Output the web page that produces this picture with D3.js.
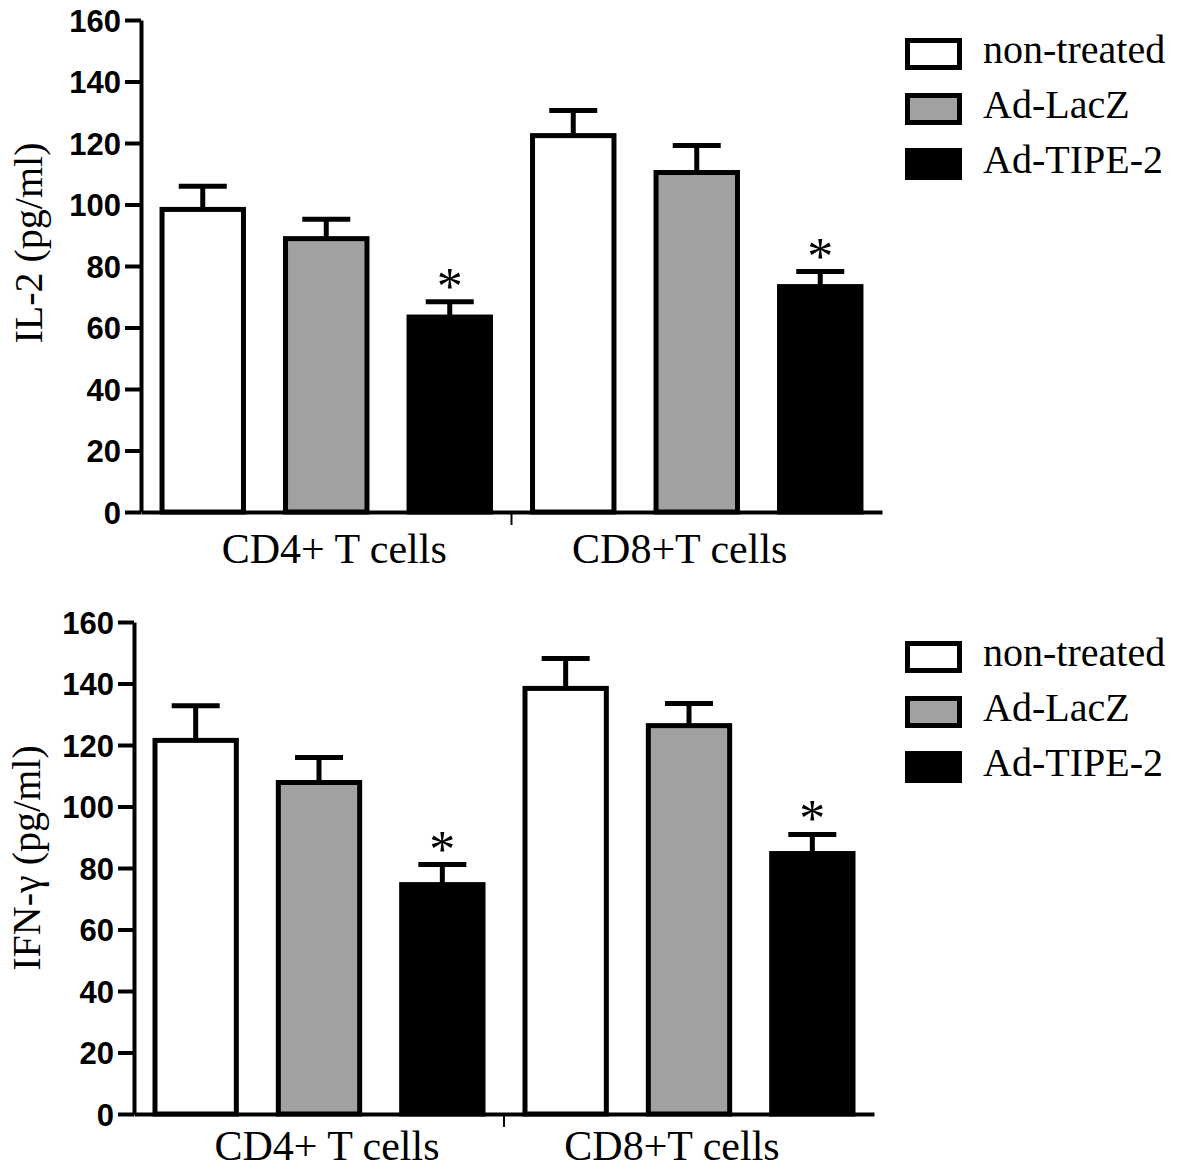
<!DOCTYPE html>
<html>
<head>
<meta charset="utf-8">
<script src="https://cdnjs.cloudflare.com/ajax/libs/d3/7.8.5/d3.min.js"></script>
<style>
  body { margin: 0; background: #fff; }
  svg { display: block; }
</style>
</head>
<body>
<div id="figure"></div>
<script>
const groups = ["CD4+ T cells", "CD8+T cells"];
const series = ["non-treated", "Ad-LacZ", "Ad-TIPE-2"];
const fills = ["#ffffff", "#a1a1a4", "#000000"];
const yTicks = [0, 20, 40, 60, 80, 100, 120, 140, 160];

// mean and SEM per group (rows) and series (cols)
const il2Mean = [[98.4, 88.9, 63.4], [122.4, 110.4, 73.3]];
const il2Sem = [[7.5, 6.3, 5.0], [8.2, 8.8, 4.9]];
const ifnMean = [[121.5, 107.8, 74.6], [138.4, 126.3, 84.7]];
const ifnSem = [[11.3, 8.1, 6.5], [9.7, 7.2, 6.2]];
// significance marks
const starred = [[false, false, true], [false, false, true]];

const W = 1181, H = 1171;
const svg = d3.select("#figure").append("svg").attr("width", W).attr("height", H);

const serif = "'Liberation Serif', 'Times New Roman', serif";
const sans = "'Liberation Sans', Arial, sans-serif";

function panel(opts) {
  const g = svg.append("g");
  const y = d3.scaleLinear().domain([0, 160]).range([opts.y0, opts.y1]);
  const xGroup = d3.scaleBand().domain(groups).range([opts.x0, opts.x1]).padding(0);
  const xBar = d3.scaleBand().domain(series).range([0, xGroup.bandwidth()])
    .paddingInner(0.3).paddingOuter(0.15);

  const rows = [];
  groups.forEach((grp, gi) => {
    series.forEach((s, si) => {
      rows.push({ grp, s, si, mean: opts.mean[gi][si], sem: opts.sem[gi][si], star: starred[gi][si] });
    });
  });

  const sw = 5;
  const bw = xBar.bandwidth();
  const cx = d => xGroup(d.grp) + xBar(d.s) + bw / 2;

  // error bars (upper only)
  g.selectAll("line.err").data(rows).join("line")
    .attr("class", "err")
    .attr("x1", cx).attr("x2", cx)
    .attr("y1", d => y(d.mean)).attr("y2", d => y(d.mean + d.sem))
    .attr("stroke", "#000").attr("stroke-width", sw);
  g.selectAll("line.cap").data(rows).join("line")
    .attr("class", "cap")
    .attr("x1", d => cx(d) - 24).attr("x2", d => cx(d) + 24)
    .attr("y1", d => y(d.mean + d.sem)).attr("y2", d => y(d.mean + d.sem))
    .attr("stroke", "#000").attr("stroke-width", sw);

  // bars
  g.selectAll("rect.bar").data(rows).join("rect")
    .attr("class", "bar")
    .attr("x", d => xGroup(d.grp) + xBar(d.s) + sw / 2)
    .attr("width", bw - sw)
    .attr("y", d => y(d.mean))
    .attr("height", d => y(0) - y(d.mean))
    .attr("fill", d => fills[d.si])
    .attr("stroke", "#000").attr("stroke-width", sw);

  // stars
  g.selectAll("text.star").data(rows.filter(d => d.star)).join("text")
    .attr("class", "star")
    .attr("x", cx)
    .attr("y", d => y(d.mean + d.sem) + 2)
    .attr("text-anchor", "middle")
    .attr("font-family", serif).attr("font-size", 52)
    .text("*");

  // y axis
  const ay = g.append("g").attr("transform", `translate(${opts.x0},0)`)
    .call(d3.axisLeft(y).tickValues(yTicks).tickSize(16).tickSizeOuter(0).tickPadding(4));
  ay.select(".domain").attr("stroke-width", 4);
  ay.selectAll(".tick line").attr("stroke-width", 4);
  ay.selectAll(".tick text").attr("font-family", sans).attr("font-weight", "bold")
    .attr("font-size", 31).attr("fill", "#000").attr("dy", "0.36em");

  // x axis
  const ax = g.append("g").attr("transform", `translate(0,${opts.y0})`)
    .call(d3.axisBottom(xGroup).tickSize(0).tickSizeOuter(0).tickFormat(""));
  ax.select(".domain").attr("stroke-width", 4);
  g.append("line")
    .attr("x1", xGroup(groups[1])).attr("x2", xGroup(groups[1]))
    .attr("y1", opts.y0).attr("y2", opts.y0 + 13)
    .attr("stroke", "#000").attr("stroke-width", 2);

  g.selectAll("text.cat").data(groups).join("text")
    .attr("class", "cat")
    .attr("x", (d, i) => xGroup(d) + xGroup.bandwidth() / 2 + opts.catDx[i])
    .attr("y", opts.y0 + opts.catDy)
    .attr("text-anchor", "middle")
    .attr("font-family", serif).attr("font-size", 42)
    .text(d => d);

  // y title
  g.append("text")
    .attr("transform", `translate(${opts.titleX},${opts.titleY}) rotate(-90)`)
    .attr("text-anchor", "middle")
    .attr("font-family", serif).attr("font-size", 40)
    .text(opts.title);

  // legend
  const lg = g.append("g").attr("transform", `translate(905,${opts.legendY})`);
  const item = lg.selectAll("g").data(series).join("g")
    .attr("transform", (d, i) => `translate(0,${i * 55})`);
  item.append("rect")
    .attr("x", 2.5).attr("y", 2.5).attr("width", 52).attr("height", 27)
    .attr("fill", (d, i) => fills[i]).attr("stroke", "#000").attr("stroke-width", sw);
  item.append("text")
    .attr("x", 78).attr("y", 25)
    .attr("font-family", serif).attr("font-size", 40)
    .text(d => d);
}

panel({
  x0: 141, x1: 882, y0: 512, y1: 20,
  mean: il2Mean, sem: il2Sem,
  title: "IL-2 (pg/ml)", titleX: 42, titleY: 243,
  catDx: [8, -17], catDy: 51,
  legendY: 38
});

panel({
  x0: 134, x1: 874, y0: 1114, y1: 622,
  mean: ifnMean, sem: ifnSem,
  title: "IFN-\u03b3 (pg/ml)", titleX: 40, titleY: 858,
  catDx: [8, -17], catDy: 46,
  legendY: 641
});
</script>
</body>
</html>
